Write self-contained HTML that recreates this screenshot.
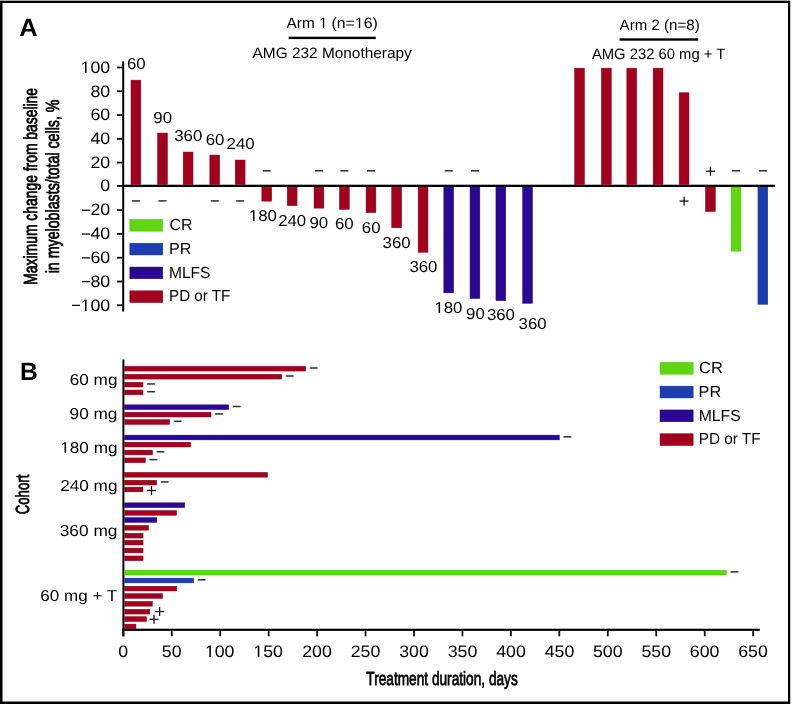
<!DOCTYPE html>
<html><head><meta charset="utf-8"><style>
html,body{margin:0;padding:0;background:#fff;width:792px;height:704px;overflow:hidden}
svg{display:block;will-change:transform}
text{font-family:"Liberation Sans",sans-serif;text-rendering:geometricPrecision}
</style></head><body>
<svg width="792" height="704" viewBox="0 0 792 704">
<rect width="792" height="704" fill="#fff"/>
<rect x="0.00" y="0.00" width="790.00" height="1.00" fill="#a8a8a8"/>
<rect x="0.00" y="1.00" width="790.00" height="2.00" fill="#000"/>
<rect x="0.00" y="1.00" width="2.50" height="703.00" fill="#000"/>
<rect x="788.00" y="1.00" width="2.00" height="703.00" fill="#000"/>
<rect x="0.00" y="701.50" width="790.00" height="2.50" fill="#000"/>
<rect x="790.00" y="1.00" width="1.00" height="703.00" fill="#c8c8c8"/>
<rect x="288.60" y="36.70" width="87.20" height="2.40" fill="#000"/>
<rect x="619.60" y="38.30" width="78.60" height="2.40" fill="#000"/>
<rect x="122.20" y="61.30" width="2.00" height="250.20" fill="#000"/>
<rect x="117.10" y="304.39" width="5.30" height="1.80" fill="#000"/>
<rect x="72.00" y="304.74" width="8.00" height="1.30" fill="#111"/>
<rect x="117.10" y="280.61" width="5.30" height="1.80" fill="#000"/>
<rect x="82.00" y="280.96" width="8.00" height="1.30" fill="#111"/>
<rect x="117.10" y="256.83" width="5.30" height="1.80" fill="#000"/>
<rect x="82.00" y="257.18" width="8.00" height="1.30" fill="#111"/>
<rect x="117.10" y="233.04" width="5.30" height="1.80" fill="#000"/>
<rect x="82.00" y="233.39" width="8.00" height="1.30" fill="#111"/>
<rect x="117.10" y="209.26" width="5.30" height="1.80" fill="#000"/>
<rect x="82.00" y="209.61" width="8.00" height="1.30" fill="#111"/>
<rect x="117.10" y="185.05" width="5.30" height="1.80" fill="#000"/>
<rect x="117.10" y="161.70" width="5.30" height="1.80" fill="#000"/>
<rect x="117.10" y="137.92" width="5.30" height="1.80" fill="#000"/>
<rect x="117.10" y="114.13" width="5.30" height="1.80" fill="#000"/>
<rect x="117.10" y="90.35" width="5.30" height="1.80" fill="#000"/>
<rect x="117.10" y="66.57" width="5.30" height="1.80" fill="#000"/>
<rect x="122.20" y="184.70" width="652.90" height="2.30" fill="#000"/>
<rect x="131.00" y="80.15" width="9.80" height="104.45" fill="#a2001d" stroke="#7a0014" stroke-width="0.5"/>
<rect x="131.90" y="200.15" width="8.00" height="1.50" fill="#2e2e2e"/>
<rect x="157.60" y="133.05" width="9.80" height="51.55" fill="#a2001d" stroke="#7a0014" stroke-width="0.5"/>
<rect x="158.50" y="200.15" width="8.00" height="1.50" fill="#2e2e2e"/>
<rect x="183.20" y="152.05" width="9.80" height="32.55" fill="#a2001d" stroke="#7a0014" stroke-width="0.5"/>
<rect x="209.85" y="155.05" width="9.80" height="29.55" fill="#a2001d" stroke="#7a0014" stroke-width="0.5"/>
<rect x="210.75" y="200.15" width="8.00" height="1.50" fill="#2e2e2e"/>
<rect x="235.25" y="160.05" width="9.80" height="24.55" fill="#a2001d" stroke="#7a0014" stroke-width="0.5"/>
<rect x="236.15" y="200.15" width="8.00" height="1.50" fill="#2e2e2e"/>
<rect x="261.85" y="187.10" width="9.80" height="14.05" fill="#a2001d" stroke="#7a0014" stroke-width="0.5"/>
<rect x="262.75" y="170.05" width="8.00" height="1.50" fill="#2e2e2e"/>
<rect x="287.25" y="187.10" width="9.80" height="18.55" fill="#a2001d" stroke="#7a0014" stroke-width="0.5"/>
<rect x="314.05" y="187.10" width="9.80" height="21.05" fill="#a2001d" stroke="#7a0014" stroke-width="0.5"/>
<rect x="314.95" y="170.05" width="8.00" height="1.50" fill="#2e2e2e"/>
<rect x="339.45" y="187.10" width="9.80" height="22.25" fill="#a2001d" stroke="#7a0014" stroke-width="0.5"/>
<rect x="340.35" y="170.05" width="8.00" height="1.50" fill="#2e2e2e"/>
<rect x="366.05" y="187.10" width="9.80" height="25.55" fill="#a2001d" stroke="#7a0014" stroke-width="0.5"/>
<rect x="366.95" y="170.05" width="8.00" height="1.50" fill="#2e2e2e"/>
<rect x="391.75" y="187.10" width="9.80" height="40.65" fill="#a2001d" stroke="#7a0014" stroke-width="0.5"/>
<rect x="418.15" y="187.10" width="9.80" height="65.15" fill="#a2001d" stroke="#7a0014" stroke-width="0.5"/>
<rect x="443.85" y="187.10" width="9.80" height="105.75" fill="#2b0795" stroke="#22056f" stroke-width="0.5"/>
<rect x="444.75" y="170.05" width="8.00" height="1.50" fill="#2e2e2e"/>
<rect x="470.05" y="187.10" width="9.80" height="111.35" fill="#2b0795" stroke="#22056f" stroke-width="0.5"/>
<rect x="470.95" y="170.05" width="8.00" height="1.50" fill="#2e2e2e"/>
<rect x="495.95" y="187.10" width="9.80" height="113.55" fill="#2b0795" stroke="#22056f" stroke-width="0.5"/>
<rect x="522.65" y="187.10" width="9.80" height="116.15" fill="#2b0795" stroke="#22056f" stroke-width="0.5"/>
<rect x="574.65" y="68.15" width="9.80" height="116.45" fill="#a2001d" stroke="#7a0014" stroke-width="0.5"/>
<rect x="601.45" y="68.15" width="9.80" height="116.45" fill="#a2001d" stroke="#7a0014" stroke-width="0.5"/>
<rect x="626.85" y="68.15" width="9.80" height="116.45" fill="#a2001d" stroke="#7a0014" stroke-width="0.5"/>
<rect x="653.15" y="68.15" width="9.80" height="116.45" fill="#a2001d" stroke="#7a0014" stroke-width="0.5"/>
<rect x="679.15" y="92.75" width="9.80" height="91.85" fill="#a2001d" stroke="#7a0014" stroke-width="0.5"/>
<rect x="679.55" y="200.45" width="9.00" height="1.30" fill="#111"/>
<rect x="683.40" y="196.60" width="1.30" height="9.00" fill="#111"/>
<rect x="705.55" y="187.10" width="9.80" height="24.45" fill="#a2001d" stroke="#7a0014" stroke-width="0.5"/>
<rect x="705.95" y="170.55" width="9.00" height="1.30" fill="#111"/>
<rect x="709.80" y="166.70" width="1.30" height="9.00" fill="#111"/>
<rect x="731.15" y="187.10" width="9.80" height="64.05" fill="#5ed70e" stroke="#4fc00a" stroke-width="0.5"/>
<rect x="732.05" y="170.05" width="8.00" height="1.50" fill="#2e2e2e"/>
<rect x="757.95" y="187.10" width="9.80" height="117.15" fill="#1b3db0" stroke="#14308a" stroke-width="0.5"/>
<rect x="758.85" y="170.05" width="8.00" height="1.50" fill="#2e2e2e"/>
<rect x="129.85" y="219.45" width="32.90" height="11.70" fill="#5ed70e" stroke="#4fc00a" stroke-width="0.5"/>
<rect x="129.85" y="243.25" width="32.90" height="11.70" fill="#1b3db0" stroke="#14308a" stroke-width="0.5"/>
<rect x="129.85" y="267.05" width="32.90" height="11.70" fill="#2b0795" stroke="#22056f" stroke-width="0.5"/>
<rect x="129.85" y="290.85" width="32.90" height="11.70" fill="#a2001d" stroke="#7a0014" stroke-width="0.5"/>
<rect x="122.40" y="359.50" width="2.00" height="276.80" fill="#000"/>
<rect x="122.40" y="628.70" width="637.40" height="2.20" fill="#000"/>
<rect x="122.45" y="629.00" width="1.70" height="7.30" fill="#000"/>
<rect x="170.90" y="629.00" width="1.70" height="7.30" fill="#000"/>
<rect x="219.35" y="629.00" width="1.70" height="7.30" fill="#000"/>
<rect x="267.80" y="629.00" width="1.70" height="7.30" fill="#000"/>
<rect x="316.25" y="629.00" width="1.70" height="7.30" fill="#000"/>
<rect x="364.70" y="629.00" width="1.70" height="7.30" fill="#000"/>
<rect x="413.15" y="629.00" width="1.70" height="7.30" fill="#000"/>
<rect x="461.60" y="629.00" width="1.70" height="7.30" fill="#000"/>
<rect x="510.05" y="629.00" width="1.70" height="7.30" fill="#000"/>
<rect x="558.50" y="629.00" width="1.70" height="7.30" fill="#000"/>
<rect x="606.95" y="629.00" width="1.70" height="7.30" fill="#000"/>
<rect x="655.40" y="629.00" width="1.70" height="7.30" fill="#000"/>
<rect x="703.85" y="629.00" width="1.70" height="7.30" fill="#000"/>
<rect x="752.30" y="629.00" width="1.70" height="7.30" fill="#000"/>
<rect x="124.65" y="366.35" width="181.00" height="4.70" fill="#a2001d" stroke="#7a0014" stroke-width="0.5"/>
<rect x="309.80" y="367.25" width="7.80" height="1.50" fill="#2e2e2e"/>
<rect x="124.65" y="374.35" width="157.00" height="4.70" fill="#a2001d" stroke="#7a0014" stroke-width="0.5"/>
<rect x="285.80" y="375.25" width="7.80" height="1.50" fill="#2e2e2e"/>
<rect x="124.65" y="382.30" width="18.30" height="4.70" fill="#a2001d" stroke="#7a0014" stroke-width="0.5"/>
<rect x="147.10" y="383.20" width="7.80" height="1.50" fill="#2e2e2e"/>
<rect x="124.65" y="390.05" width="18.30" height="4.70" fill="#a2001d" stroke="#7a0014" stroke-width="0.5"/>
<rect x="147.10" y="390.95" width="7.80" height="1.50" fill="#2e2e2e"/>
<rect x="124.65" y="404.85" width="104.00" height="4.70" fill="#2b0795" stroke="#22056f" stroke-width="0.5"/>
<rect x="232.80" y="405.75" width="7.80" height="1.50" fill="#2e2e2e"/>
<rect x="124.65" y="412.25" width="86.35" height="4.70" fill="#a2001d" stroke="#7a0014" stroke-width="0.5"/>
<rect x="215.15" y="413.15" width="7.80" height="1.50" fill="#2e2e2e"/>
<rect x="124.65" y="419.65" width="45.00" height="4.70" fill="#a2001d" stroke="#7a0014" stroke-width="0.5"/>
<rect x="173.80" y="420.55" width="7.80" height="1.50" fill="#2e2e2e"/>
<rect x="124.65" y="435.15" width="434.70" height="4.70" fill="#2b0795" stroke="#22056f" stroke-width="0.5"/>
<rect x="563.50" y="436.05" width="7.80" height="1.50" fill="#2e2e2e"/>
<rect x="124.65" y="442.25" width="65.85" height="4.70" fill="#a2001d" stroke="#7a0014" stroke-width="0.5"/>
<rect x="124.65" y="450.15" width="27.80" height="4.70" fill="#a2001d" stroke="#7a0014" stroke-width="0.5"/>
<rect x="156.60" y="451.05" width="7.80" height="1.50" fill="#2e2e2e"/>
<rect x="124.65" y="457.95" width="20.70" height="4.70" fill="#a2001d" stroke="#7a0014" stroke-width="0.5"/>
<rect x="149.50" y="458.85" width="7.80" height="1.50" fill="#2e2e2e"/>
<rect x="124.65" y="472.45" width="142.90" height="4.70" fill="#a2001d" stroke="#7a0014" stroke-width="0.5"/>
<rect x="124.65" y="480.25" width="32.00" height="4.70" fill="#a2001d" stroke="#7a0014" stroke-width="0.5"/>
<rect x="160.80" y="481.15" width="7.80" height="1.50" fill="#2e2e2e"/>
<rect x="124.65" y="487.15" width="18.30" height="4.70" fill="#a2001d" stroke="#7a0014" stroke-width="0.5"/>
<rect x="147.00" y="489.85" width="9.00" height="1.30" fill="#111"/>
<rect x="150.85" y="486.00" width="1.30" height="9.00" fill="#111"/>
<rect x="124.65" y="502.85" width="60.10" height="4.70" fill="#2b0795" stroke="#22056f" stroke-width="0.5"/>
<rect x="124.65" y="510.55" width="51.90" height="4.70" fill="#a2001d" stroke="#7a0014" stroke-width="0.5"/>
<rect x="124.65" y="517.65" width="32.10" height="4.70" fill="#2b0795" stroke="#22056f" stroke-width="0.5"/>
<rect x="124.65" y="525.45" width="23.80" height="4.70" fill="#a2001d" stroke="#7a0014" stroke-width="0.5"/>
<rect x="124.65" y="533.35" width="18.40" height="4.70" fill="#a2001d" stroke="#7a0014" stroke-width="0.5"/>
<rect x="124.65" y="540.25" width="18.40" height="4.70" fill="#a2001d" stroke="#7a0014" stroke-width="0.5"/>
<rect x="124.65" y="548.15" width="18.40" height="4.70" fill="#a2001d" stroke="#7a0014" stroke-width="0.5"/>
<rect x="124.65" y="555.95" width="18.40" height="4.70" fill="#a2001d" stroke="#7a0014" stroke-width="0.5"/>
<rect x="124.65" y="570.25" width="601.80" height="4.70" fill="#5ed70e" stroke="#4fc00a" stroke-width="0.5"/>
<rect x="730.60" y="571.15" width="7.80" height="1.50" fill="#2e2e2e"/>
<rect x="124.65" y="578.15" width="69.00" height="4.70" fill="#1b3db0" stroke="#14308a" stroke-width="0.5"/>
<rect x="197.80" y="579.05" width="7.80" height="1.50" fill="#2e2e2e"/>
<rect x="124.65" y="586.25" width="52.10" height="4.70" fill="#a2001d" stroke="#7a0014" stroke-width="0.5"/>
<rect x="124.65" y="593.65" width="37.90" height="4.70" fill="#a2001d" stroke="#7a0014" stroke-width="0.5"/>
<rect x="124.65" y="601.45" width="27.70" height="4.70" fill="#a2001d" stroke="#7a0014" stroke-width="0.5"/>
<rect x="124.65" y="609.35" width="25.10" height="4.70" fill="#a2001d" stroke="#7a0014" stroke-width="0.5"/>
<rect x="155.15" y="610.85" width="9.00" height="1.30" fill="#111"/>
<rect x="159.00" y="607.00" width="1.30" height="9.00" fill="#111"/>
<rect x="124.65" y="616.75" width="21.90" height="4.70" fill="#a2001d" stroke="#7a0014" stroke-width="0.5"/>
<rect x="149.50" y="618.65" width="9.00" height="1.30" fill="#111"/>
<rect x="153.35" y="614.80" width="1.30" height="9.00" fill="#111"/>
<rect x="124.65" y="624.15" width="11.30" height="4.70" fill="#a2001d" stroke="#7a0014" stroke-width="0.5"/>
<rect x="660.05" y="362.35" width="33.10" height="11.80" fill="#5ed70e" stroke="#4fc00a" stroke-width="0.5"/>
<rect x="660.05" y="386.15" width="33.10" height="11.80" fill="#1b3db0" stroke="#14308a" stroke-width="0.5"/>
<rect x="660.05" y="409.95" width="33.10" height="11.80" fill="#2b0795" stroke="#22056f" stroke-width="0.5"/>
<rect x="660.05" y="433.75" width="33.10" height="11.80" fill="#a2001d" stroke="#7a0014" stroke-width="0.5"/>
<text transform="translate(19.37,35.60) scale(1.0149,1)" font-size="25" font-weight="700" fill="#000">A</text>
<g transform="translate(286.50,28.00) scale(1.0256,1)" fill="#000"><text font-size="15.0" font-weight="400">Arm  </text><path transform="translate(31.662,0) scale(0.007324,-0.007324)" d="M515 0L696 0L696 1409L530 1409L210 1185L210 1015L515 1237Z"/></g>
<g transform="translate(331.47,28.00) scale(1.0571,1)" fill="#000"><text font-size="15.0" font-weight="400">(n= 6)</text><path transform="translate(22.096,0) scale(0.007324,-0.007324)" d="M515 0L696 0L696 1409L530 1409L210 1185L210 1015L515 1237Z"/></g>
<text transform="translate(252.60,57.50) scale(1.0265,1)" font-size="15.0" font-weight="400" fill="#000">AMG 232 Monotherapy</text>
<text transform="translate(619.60,29.60) scale(1.0060,1)" font-size="15.0" font-weight="400" fill="#000">Arm 2 (n=8)</text>
<text transform="translate(591.90,58.50) scale(0.9868,1)" font-size="15.0" font-weight="400" fill="#000">AMG 232 60 mg + T</text>
<g transform="translate(80.51,311.00) scale(1.0700,1)" fill="#000"><text font-size="16.6" font-weight="400"> 00</text><path transform="translate(0.000,0) scale(0.008105,-0.008105)" d="M515 0L696 0L696 1409L530 1409L210 1185L210 1015L515 1237Z"/></g>
<text transform="translate(90.41,287.00) scale(1.0700,1)" font-size="16.6" font-weight="400" fill="#000">80</text>
<text transform="translate(90.41,263.00) scale(1.0700,1)" font-size="16.6" font-weight="400" fill="#000">60</text>
<text transform="translate(90.41,239.00) scale(1.0700,1)" font-size="16.6" font-weight="400" fill="#000">40</text>
<text transform="translate(90.41,215.00) scale(1.0700,1)" font-size="16.6" font-weight="400" fill="#000">20</text>
<text transform="translate(100.17,191.00) scale(1.0700,1)" font-size="16.6" font-weight="400" fill="#000">0</text>
<text transform="translate(90.41,168.00) scale(1.0700,1)" font-size="16.6" font-weight="400" fill="#000">20</text>
<text transform="translate(90.41,144.00) scale(1.0700,1)" font-size="16.6" font-weight="400" fill="#000">40</text>
<text transform="translate(90.41,120.00) scale(1.0700,1)" font-size="16.6" font-weight="400" fill="#000">60</text>
<text transform="translate(90.41,97.00) scale(1.0700,1)" font-size="16.6" font-weight="400" fill="#000">80</text>
<g transform="translate(80.51,73.00) scale(1.0700,1)" fill="#000"><text font-size="16.6" font-weight="400"> 00</text><path transform="translate(0.000,0) scale(0.008105,-0.008105)" d="M515 0L696 0L696 1409L530 1409L210 1185L210 1015L515 1237Z"/></g>
<text transform="translate(126.95,69.00) scale(1.0650,1)" font-size="15.8" font-weight="400" fill="#000">60</text>
<text transform="translate(153.35,123.00) scale(1.0650,1)" font-size="15.8" font-weight="400" fill="#000">90</text>
<text transform="translate(174.21,141.00) scale(1.0650,1)" font-size="15.8" font-weight="400" fill="#000">360</text>
<text transform="translate(205.65,145.00) scale(1.0650,1)" font-size="15.8" font-weight="400" fill="#000">60</text>
<text transform="translate(226.54,149.00) scale(1.0650,1)" font-size="15.8" font-weight="400" fill="#000">240</text>
<g transform="translate(248.78,221.00) scale(1.0650,1)" fill="#000"><text font-size="15.8" font-weight="400"> 80</text><path transform="translate(0.000,0) scale(0.007715,-0.007715)" d="M515 0L696 0L696 1409L530 1409L210 1185L210 1015L515 1237Z"/></g>
<text transform="translate(278.14,226.00) scale(1.0650,1)" font-size="15.8" font-weight="400" fill="#000">240</text>
<text transform="translate(309.50,228.00) scale(1.0650,1)" font-size="15.8" font-weight="400" fill="#000">90</text>
<text transform="translate(334.90,229.00) scale(1.0650,1)" font-size="15.8" font-weight="400" fill="#000">60</text>
<text transform="translate(361.80,233.00) scale(1.0650,1)" font-size="15.8" font-weight="400" fill="#000">60</text>
<text transform="translate(382.56,248.00) scale(1.0650,1)" font-size="15.8" font-weight="400" fill="#000">360</text>
<text transform="translate(409.41,272.00) scale(1.0650,1)" font-size="15.8" font-weight="400" fill="#000">360</text>
<g transform="translate(434.38,313.00) scale(1.0650,1)" fill="#000"><text font-size="15.8" font-weight="400"> 80</text><path transform="translate(0.000,0) scale(0.007715,-0.007715)" d="M515 0L696 0L696 1409L530 1409L210 1185L210 1015L515 1237Z"/></g>
<text transform="translate(466.10,319.00) scale(1.0650,1)" font-size="15.8" font-weight="400" fill="#000">90</text>
<text transform="translate(486.91,320.00) scale(1.0650,1)" font-size="15.8" font-weight="400" fill="#000">360</text>
<text transform="translate(518.56,329.00) scale(1.0650,1)" font-size="15.8" font-weight="400" fill="#000">360</text>
<text transform="translate(169.43,230.00) scale(0.9953,1)" font-size="16.0" font-weight="400" fill="#000">CR</text>
<text transform="translate(168.92,254.00) scale(1.0037,1)" font-size="16.0" font-weight="400" fill="#000">PR</text>
<text transform="translate(168.96,278.00) scale(0.9728,1)" font-size="16.0" font-weight="400" fill="#000">MLFS</text>
<text transform="translate(168.99,301.00) scale(0.9501,1)" font-size="16.0" font-weight="400" fill="#000">PD or TF</text>
<text transform="translate(37.30,284.70) rotate(-90) scale(0.7307,1)" font-size="19.0" font-weight="400" fill="#000" stroke="#000" stroke-width="0.75">Maximum change from baseline</text>
<text transform="translate(59.30,273.34) rotate(-90) scale(0.7483,1)" font-size="19.0" font-weight="400" fill="#000" stroke="#000" stroke-width="0.75">in myeloblasts/total cells, %</text>
<text transform="translate(20.10,380.20) scale(0.9836,1)" font-size="25" font-weight="700" fill="#000">B</text>
<text transform="translate(118.35,657.00) scale(1.0700,1)" font-size="16.6" font-weight="400" fill="#000">0</text>
<text transform="translate(161.85,657.00) scale(1.0700,1)" font-size="16.6" font-weight="400" fill="#000">50</text>
<g transform="translate(204.84,657.00) scale(1.0700,1)" fill="#000"><text font-size="16.6" font-weight="400"> 00</text><path transform="translate(0.000,0) scale(0.008105,-0.008105)" d="M515 0L696 0L696 1409L530 1409L210 1185L210 1015L515 1237Z"/></g>
<g transform="translate(253.29,657.00) scale(1.0700,1)" fill="#000"><text font-size="16.6" font-weight="400"> 50</text><path transform="translate(0.000,0) scale(0.008105,-0.008105)" d="M515 0L696 0L696 1409L530 1409L210 1185L210 1015L515 1237Z"/></g>
<text transform="translate(302.19,657.00) scale(1.0700,1)" font-size="16.6" font-weight="400" fill="#000">200</text>
<text transform="translate(350.64,657.00) scale(1.0700,1)" font-size="16.6" font-weight="400" fill="#000">250</text>
<text transform="translate(399.22,657.00) scale(1.0700,1)" font-size="16.6" font-weight="400" fill="#000">300</text>
<text transform="translate(447.67,657.00) scale(1.0700,1)" font-size="16.6" font-weight="400" fill="#000">350</text>
<text transform="translate(496.25,657.00) scale(1.0700,1)" font-size="16.6" font-weight="400" fill="#000">400</text>
<text transform="translate(544.70,657.00) scale(1.0700,1)" font-size="16.6" font-weight="400" fill="#000">450</text>
<text transform="translate(592.95,657.00) scale(1.0700,1)" font-size="16.6" font-weight="400" fill="#000">500</text>
<text transform="translate(641.40,657.00) scale(1.0700,1)" font-size="16.6" font-weight="400" fill="#000">550</text>
<text transform="translate(689.79,657.00) scale(1.0700,1)" font-size="16.6" font-weight="400" fill="#000">600</text>
<text transform="translate(738.24,657.00) scale(1.0700,1)" font-size="16.6" font-weight="400" fill="#000">650</text>
<text transform="translate(366.33,684.50) scale(0.7193,1)" font-size="19.0" font-weight="400" fill="#000" stroke="#000" stroke-width="0.75">Treatment duration, days</text>
<text transform="translate(29.00,514.29) rotate(-90) scale(0.6944,1)" font-size="19.0" font-weight="400" fill="#000" stroke="#000" stroke-width="0.75">Cohort</text>
<text transform="translate(69.79,385.00) scale(1.0849,1)" font-size="15.8" font-weight="400" fill="#000">60 mg</text>
<text transform="translate(69.58,419.00) scale(1.0896,1)" font-size="15.8" font-weight="400" fill="#000">90 mg</text>
<g transform="translate(60.24,453.00) scale(1.0859,1)" fill="#000"><text font-size="15.8" font-weight="400"> 80 mg</text><path transform="translate(0.000,0) scale(0.007715,-0.007715)" d="M515 0L696 0L696 1409L530 1409L210 1185L210 1015L515 1237Z"/></g>
<text transform="translate(60.18,491.00) scale(1.0870,1)" font-size="15.8" font-weight="400" fill="#000">240 mg</text>
<text transform="translate(59.71,536.00) scale(1.0961,1)" font-size="15.8" font-weight="400" fill="#000">360 mg</text>
<text transform="translate(40.29,601.00) scale(1.0795,1)" font-size="15.8" font-weight="400" fill="#000">60 mg + T</text>
<text transform="translate(699.10,373.00) scale(1.0233,1)" font-size="16.0" font-weight="400" fill="#000">CR</text>
<text transform="translate(698.60,397.00) scale(1.0186,1)" font-size="16.0" font-weight="400" fill="#000">PR</text>
<text transform="translate(698.64,421.00) scale(0.9877,1)" font-size="16.0" font-weight="400" fill="#000">MLFS</text>
<text transform="translate(698.68,444.00) scale(0.9581,1)" font-size="16.0" font-weight="400" fill="#000">PD or TF</text>
</svg></body></html>
